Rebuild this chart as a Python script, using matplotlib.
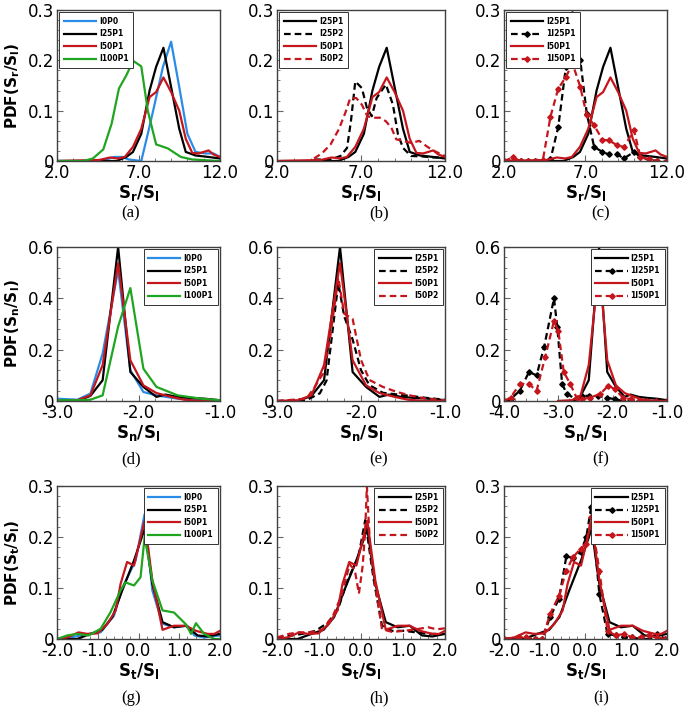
import matplotlib
matplotlib.use('Agg')
import matplotlib.pyplot as plt
from matplotlib.ticker import AutoMinorLocator, FuncFormatter

# ---------------- row 1: PDF(Sr/Sl) ----------------
r_i0p0_x = [2.0, 3.0, 4.0, 5.0, 5.5, 6.0, 6.4, 7.17, 7.57, 7.9, 8.5, 9.0, 9.5, 10.0, 10.5, 11.1, 11.6, 12.0]
r_i0p0_y = [0.0, 0.0, 0.0, 0.003, 0.008, 0.008, 0.003, 0.0, 0.054, 0.1, 0.187, 0.237, 0.147, 0.054, 0.018, 0.015, 0.015, 0.008]

r_i25p1_x = [2.0, 5.65, 6.25, 6.66, 7.17, 7.68, 8.08, 8.53, 9.0, 9.5, 9.9, 10.5, 11.3, 12.0]
r_i25p1_y = [0.0, 0.0, 0.008, 0.018, 0.054, 0.14, 0.187, 0.225, 0.147, 0.064, 0.018, 0.011, 0.008, 0.005]

r_i50p1_x = [2.0, 4.6, 5.25, 5.75, 6.16, 6.66, 7.17, 7.68, 8.08, 8.53, 9.0, 9.5, 9.9, 10.3, 10.7, 11.3, 11.6, 12.0]
r_i50p1_y = [0.0, 0.002, 0.007, 0.005, 0.008, 0.028, 0.064, 0.127, 0.137, 0.166, 0.137, 0.1, 0.044, 0.016, 0.015, 0.021, 0.013, 0.008]

r_i100p1_x = [2.0, 3.6, 4.2, 4.84, 5.35, 5.8, 6.25, 6.67, 7.17, 7.57, 8.08, 8.8, 9.6, 10.3, 12.0]
r_i100p1_y = [0.0, 0.0, 0.005, 0.023, 0.074, 0.144, 0.17, 0.199, 0.188, 0.1, 0.033, 0.025, 0.008, 0.003, 0.0]

r_i25p2_x = [4.21, 5.19, 5.78, 6.17, 6.4, 6.66, 7.05, 7.34, 7.64, 7.93, 8.48, 8.9, 9.2, 9.5, 9.98, 10.67, 11.35, 12.0]
r_i25p2_y = [0.003, 0.003, 0.01, 0.026, 0.079, 0.158, 0.145, 0.107, 0.089, 0.125, 0.152, 0.112, 0.053, 0.026, 0.01, 0.009, 0.007, 0.007]

r_i50p2_x = [4.21, 4.7, 5.19, 5.68, 6.07, 6.36, 6.72, 7.05, 7.38, 7.73, 8.13, 8.48, 8.81, 9.1, 9.5, 9.98, 10.47, 10.96, 11.35, 12.0]
r_i50p2_y = [0.005, 0.016, 0.033, 0.063, 0.096, 0.125, 0.125, 0.112, 0.089, 0.086, 0.086, 0.079, 0.066, 0.043, 0.04, 0.036, 0.04, 0.028, 0.02, 0.01]

r_1i25p1_x = [2.0, 2.55, 3.02, 3.46, 3.91, 4.38, 4.85, 5.33, 5.8, 6.2, 6.68, 7.08, 7.53, 8.04, 8.44, 8.95, 9.36, 9.97, 10.37, 10.88, 11.39, 12.0]
r_1i25p1_y = [0.0, 0.0, 0.0, 0.0, 0.0, 0.0, 0.003, 0.068, 0.187, 0.292, 0.2, 0.094, 0.028, 0.018, 0.013, 0.013, 0.005, 0.018, 0.008, 0.003, 0.0, 0.0]

r_1i50p1_x = [2.0, 2.55, 3.02, 3.46, 3.91, 4.38, 4.85, 5.33, 5.8, 6.2, 6.68, 7.08, 7.53, 8.04, 8.44, 8.95, 9.36, 9.97, 10.37, 10.88, 11.39, 12.0]
r_1i50p1_y = [0.0, 0.007, 0.0, 0.0, 0.0, 0.001, 0.088, 0.144, 0.167, 0.194, 0.147, 0.091, 0.071, 0.042, 0.041, 0.031, 0.028, 0.061, 0.008, 0.003, 0.0, 0.0]

# ---------------- row 2: PDF(Sn/Sl) ----------------
n_i0p0_x = [-3.0, -2.75, -2.59, -2.44, -2.25, -2.1, -1.94, -1.78, -1.52, -1.19, -1.0]
n_i0p0_y = [0.009, 0.005, 0.029, 0.185, 0.51, 0.12, 0.035, 0.022, 0.009, 0.003, 0.0]

n_i25p1_x = [-3.0, -2.75, -2.59, -2.44, -2.25, -2.1, -1.94, -1.78, -1.67, -1.52, -1.36, -1.19, -1.0]
n_i25p1_y = [0.0, 0.0, 0.02, 0.081, 0.6, 0.113, 0.055, 0.016, 0.025, 0.016, 0.012, 0.009, 0.003]

n_i50p1_x = [-3.0, -2.75, -2.59, -2.44, -2.25, -2.1, -1.94, -1.78, -1.6, -1.44, -1.23, -1.0]
n_i50p1_y = [0.0, 0.003, 0.022, 0.14, 0.537, 0.159, 0.061, 0.031, 0.016, 0.005, 0.0, 0.0]

n_i100p1_x = [-3.0, -2.75, -2.59, -2.44, -2.25, -2.1, -1.94, -1.78, -1.52, -1.23, -1.0]
n_i100p1_y = [0.003, 0.003, 0.005, 0.022, 0.29, 0.44, 0.126, 0.055, 0.022, 0.009, 0.003]

n_i25p2_x = [-3.0, -2.65, -2.49, -2.41, -2.27, -2.2, -2.1, -2.0, -1.9, -1.74, -1.58, -1.42, -1.22, -1.0]
n_i25p2_y = [0.0, 0.003, 0.03, 0.08, 0.46, 0.33, 0.24, 0.12, 0.062, 0.032, 0.026, 0.02, 0.012, 0.005]

n_i50p2_x = [-3.0, -2.65, -2.55, -2.45, -2.37, -2.27, -2.2, -2.1, -2.0, -1.9, -1.74, -1.58, -1.42, -1.22, -1.0]
n_i50p2_y = [0.0, 0.009, 0.055, 0.108, 0.24, 0.48, 0.34, 0.32, 0.16, 0.082, 0.055, 0.036, 0.022, 0.009, 0.003]

n_1i25p1_x = [-4.0, -3.88, -3.71, -3.54, -3.4, -3.26, -3.08, -3.02, -2.93, -2.84, -2.67, -2.57, -2.43, -2.27, -2.11, -1.96, -1.81, -1.66, -1.51, -1.36, -1.21, -1.0]
n_1i25p1_y = [0.0, 0.007, 0.04, 0.113, 0.1, 0.212, 0.4, 0.29, 0.066, 0.027, 0.007, 0.02, 0.02, 0.02, 0.013, 0.007, 0.0, 0.0, 0.0, 0.0, 0.0, 0.0]

n_1i50p1_x = [-4.0, -3.88, -3.71, -3.54, -3.4, -3.24, -3.08, -3.0, -2.9, -2.78, -2.66, -2.57, -2.42, -2.23, -2.08, -1.96, -1.81, -1.66, -1.51, -1.36, -1.21, -1.0]
n_1i50p1_y = [0.0, 0.013, 0.066, 0.066, 0.04, 0.173, 0.312, 0.272, 0.113, 0.066, 0.011, 0.007, 0.013, 0.027, 0.06, 0.046, 0.013, 0.007, 0.0, 0.0, 0.0, 0.0]

# ---------------- row 3: PDF(St/Sl) ----------------
t_i0p0_x = [-2.0, -1.67, -1.3, -0.93, -0.6, -0.4, -0.07, 0.15, 0.34, 0.59, 0.87, 1.2, 1.37, 1.61, 2.0]
t_i0p0_y = [0.0, 0.003, 0.009, 0.013, 0.046, 0.1, 0.154, 0.245, 0.095, 0.03, 0.023, 0.026, 0.007, 0.003, 0.007]

t_i25p1_x = [-2.0, -1.51, -1.18, -0.89, -0.64, -0.4, -0.11, 0.15, 0.34, 0.59, 0.87, 1.16, 1.45, 1.7, 2.0]
t_i25p1_y = [0.0, 0.0, 0.01, 0.018, 0.043, 0.095, 0.154, 0.216, 0.108, 0.033, 0.023, 0.026, 0.007, 0.005, 0.01]

t_i50p1_x = [-2.0, -1.75, -1.47, -1.26, -1.01, -0.77, -0.56, -0.44, -0.28, -0.11, 0.15, 0.34, 0.59, 0.87, 1.16, 1.41, 1.7, 1.86, 2.0]
t_i50p1_y = [0.0, 0.003, 0.013, 0.01, 0.011, 0.029, 0.056, 0.108, 0.151, 0.144, 0.232, 0.115, 0.018, 0.026, 0.026, 0.016, 0.01, 0.01, 0.016]

t_i100p1_x = [-2.0, -1.75, -1.51, -1.22, -0.93, -0.69, -0.44, -0.32, -0.11, 0.05, 0.15, 0.34, 0.59, 0.87, 1.16, 1.29, 1.41, 1.61, 1.86, 2.0]
t_i100p1_y = [0.0, 0.007, 0.01, 0.007, 0.02, 0.052, 0.095, 0.111, 0.105, 0.121, 0.2, 0.115, 0.056, 0.052, 0.029, 0.01, 0.031, 0.01, 0.0, 0.0]

t_i25p2_x = [-2.0, -1.72, -1.4, -1.08, -0.79, -0.55, -0.31, -0.06, 0.1, 0.3, 0.5, 0.74, 1.03, 1.31, 1.6, 2.0]
t_i25p2_y = [0.003, 0.006, 0.01, 0.016, 0.032, 0.058, 0.117, 0.162, 0.233, 0.117, 0.026, 0.016, 0.016, 0.013, 0.01, 0.01]

t_i50p2_x = [-2.0, -1.72, -1.48, -1.2, -0.91, -0.67, -0.47, -0.27, -0.15, -0.05, 0.04, 0.1, 0.14, 0.22, 0.34, 0.5, 0.74, 1.03, 1.31, 1.6, 1.8, 2.0]
t_i50p2_y = [0.003, 0.01, 0.013, 0.013, 0.019, 0.045, 0.084, 0.146, 0.136, 0.089, 0.143, 0.214, 0.3, 0.175, 0.104, 0.019, 0.014, 0.016, 0.019, 0.023, 0.019, 0.021]

t_1i25p1_x = [-2.0, -1.64, -1.47, -1.24, -1.06, -0.87, -0.65, -0.47, -0.31, -0.12, 0.02, 0.14, 0.34, 0.54, 0.74, 0.95, 1.15, 1.35, 1.55, 1.76, 1.96]
t_1i25p1_y = [0.0, 0.003, 0.0, 0.0, 0.0, 0.043, 0.079, 0.162, 0.159, 0.17, 0.2, 0.259, 0.088, 0.01, 0.007, 0.003, 0.003, 0.0, 0.0, 0.01, 0.0]

t_1i50p1_x = [-2.0, -1.64, -1.47, -1.24, -1.06, -0.87, -0.65, -0.47, -0.31, -0.12, 0.02, 0.14, 0.34, 0.54, 0.74, 0.95, 1.15, 1.35, 1.55, 1.76, 1.96]
t_1i50p1_y = [0.0, 0.003, 0.003, 0.0, 0.0, 0.049, 0.085, 0.134, 0.16, 0.177, 0.187, 0.239, 0.134, 0.016, 0.007, 0.01, 0.003, 0.003, 0.007, 0.003, 0.0]

BLUE = '#2b8ce8'
BLACK = '#000000'
RED = '#c4161c'
GREEN = '#1fa51f'

# (x, y, label, color, style, marker)
panels = [
    [(r_i0p0_x, r_i0p0_y, 'I0P0', BLUE, '-', None),
     (r_i25p1_x, r_i25p1_y, 'I25P1', BLACK, '-', None),
     (r_i50p1_x, r_i50p1_y, 'I50P1', RED, '-', None),
     (r_i100p1_x, r_i100p1_y, 'I100P1', GREEN, '-', None)],
    [(r_i25p1_x, r_i25p1_y, 'I25P1', BLACK, '-', None),
     (r_i25p2_x, r_i25p2_y, 'I25P2', BLACK, '--', None),
     (r_i50p1_x, r_i50p1_y, 'I50P1', RED, '-', None),
     (r_i50p2_x, r_i50p2_y, 'I50P2', RED, '--', None)],
    [(r_i25p1_x, r_i25p1_y, 'I25P1', BLACK, '-', None),
     (r_1i25p1_x, r_1i25p1_y, '1I25P1', BLACK, '--', 'D'),
     (r_i50p1_x, r_i50p1_y, 'I50P1', RED, '-', None),
     (r_1i50p1_x, r_1i50p1_y, '1I50P1', RED, '--', 'D')],
    [(n_i0p0_x, n_i0p0_y, 'I0P0', BLUE, '-', None),
     (n_i25p1_x, n_i25p1_y, 'I25P1', BLACK, '-', None),
     (n_i50p1_x, n_i50p1_y, 'I50P1', RED, '-', None),
     (n_i100p1_x, n_i100p1_y, 'I100P1', GREEN, '-', None)],
    [(n_i25p1_x, n_i25p1_y, 'I25P1', BLACK, '-', None),
     (n_i25p2_x, n_i25p2_y, 'I25P2', BLACK, '--', None),
     (n_i50p1_x, n_i50p1_y, 'I50P1', RED, '-', None),
     (n_i50p2_x, n_i50p2_y, 'I50P2', RED, '--', None)],
    [(n_i25p1_x, n_i25p1_y, 'I25P1', BLACK, '-', None),
     (n_1i25p1_x, n_1i25p1_y, '1I25P1', BLACK, '--', 'D'),
     (n_i50p1_x, n_i50p1_y, 'I50P1', RED, '-', None),
     (n_1i50p1_x, n_1i50p1_y, '1I50P1', RED, '--', 'D')],
    [(t_i0p0_x, t_i0p0_y, 'I0P0', BLUE, '-', None),
     (t_i25p1_x, t_i25p1_y, 'I25P1', BLACK, '-', None),
     (t_i50p1_x, t_i50p1_y, 'I50P1', RED, '-', None),
     (t_i100p1_x, t_i100p1_y, 'I100P1', GREEN, '-', None)],
    [(t_i25p1_x, t_i25p1_y, 'I25P1', BLACK, '-', None),
     (t_i25p2_x, t_i25p2_y, 'I25P2', BLACK, '--', None),
     (t_i50p1_x, t_i50p1_y, 'I50P1', RED, '-', None),
     (t_i50p2_x, t_i50p2_y, 'I50P2', RED, '--', None)],
    [(t_i25p1_x, t_i25p1_y, 'I25P1', BLACK, '-', None),
     (t_1i25p1_x, t_1i25p1_y, '1I25P1', BLACK, '--', 'D'),
     (t_i50p1_x, t_i50p1_y, 'I50P1', RED, '-', None),
     (t_1i50p1_x, t_1i50p1_y, '1I50P1', RED, '--', 'D')],
]

panel_tags = ['(a)', '(b)', '(c)', '(d)', '(e)', '(f)', '(g)', '(h)', '(i)']
x_ticks = [[2.0, 7.0, 12.0]] * 3 + [[-3.0, -2.0, -1.0], [-3.0, -2.0, -1.0], [-4.0, -3.0, -2.0, -1.0]] + [[-2.0, -1.0, 0.0, 1.0, 2.0]] * 3
y_ticks = [[0, 0.1, 0.2, 0.3]] * 3 + [[0, 0.2, 0.4, 0.6]] * 3 + [[0, 0.1, 0.2, 0.3]] * 3
x_labels = [r'$\mathbf{S_r/S_l}$', r'$\mathbf{S_n/S_l}$', r'$\mathbf{S_t/S_l}$']
y_labels = [r'$\mathbf{PDF(S_r/S_l)}$', r'$\mathbf{PDF(S_n/S_l)}$', r'$\mathbf{PDF(S_t/S_l)}$']

W, H = 685, 711
col_box = [(57, 163), (277, 168), (504, 163)]
row_box = [(10, 151), (247, 154), (486, 153)]
tag_pos = [(131, 213), (379, 213), (601, 213),
           (131, 459), (379, 459), (601, 459),
           (131, 698), (379, 698), (601, 698)]

fig = plt.figure(figsize=(W / 100, H / 100), dpi=100)

for k in range(9):
    r, c = divmod(k, 3)
    left, w = col_box[c]
    top, h = row_box[r]
    ax = fig.add_axes([left / W, 1 - (top + h) / H, w / W, h / H])
    for x, y, lab, col, ls, mk in panels[k]:
        ax.plot(x, y, color=col, ls=ls, lw=1.6, label=lab,
                marker=mk, markersize=2.8 if mk else 0,
                dashes=(3, 1.8) if ls == '--' else (None, None))
    xt = x_ticks[k]
    ax.set_xlim(xt[0], xt[-1])
    ax.set_ylim(0, y_ticks[k][-1])
    ax.set_xticks(xt)
    ax.set_yticks(y_ticks[k])
    ax.xaxis.set_major_formatter(FuncFormatter(lambda v, p: '%.1f' % v))
    ax.yaxis.set_major_formatter(FuncFormatter(lambda v, p: '0' if v == 0 else '%.1f' % v))
    ax.xaxis.set_minor_locator(AutoMinorLocator(5))
    ax.yaxis.set_minor_locator(AutoMinorLocator(5))
    ax.tick_params(which='both', direction='in', labelsize=12, color='#666666')
    ax.tick_params(which='major', length=4, width=0.8, pad=2)
    ax.tick_params(which='minor', length=2, width=0.6)
    for s in ax.spines.values():
        s.set_color('#404040')
        s.set_linewidth(1.0)
    ax.set_xlabel(x_labels[r], fontsize=12, labelpad=1)
    if c == 0:
        ax.set_ylabel(y_labels[r], fontsize=11)
        ax.yaxis.set_label_coords(-0.215, 0.5)
    leg = ax.legend(loc='upper left' if r == 0 else 'upper right',
                    prop={'weight': 'bold', 'size': 5.5}, frameon=True,
                    fancybox=False, handlelength=4.2, handletextpad=0.4,
                    labelspacing=0.45, borderpad=0.6, borderaxespad=0.3,
                    numpoints=1)
    leg.get_frame().set_edgecolor('#333333')
    leg.get_frame().set_linewidth(0.7)
    leg.get_frame().set_alpha(1)
    fig.text(tag_pos[k][0] / W, 1 - tag_pos[k][1] / H, panel_tags[k],
             family='Liberation Serif', fontsize=12, ha='center', va='center')

fig.savefig('out.png', dpi=100)
